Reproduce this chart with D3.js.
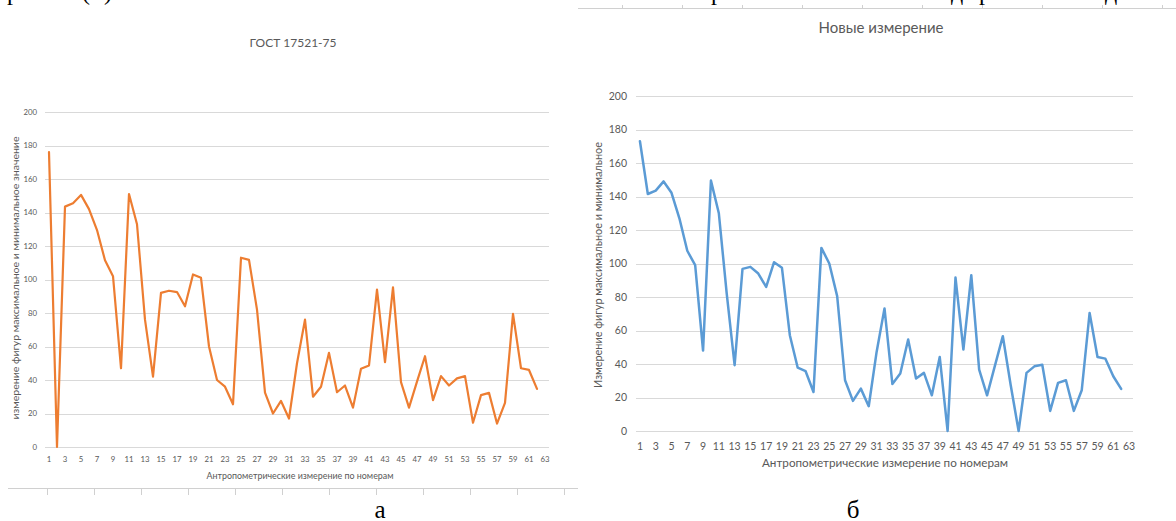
<!DOCTYPE html>
<html>
<head>
<meta charset="utf-8">
<script src="https://cdn.jsdelivr.net/npm/d3@7"></script>
<style>
  html, body { margin: 0; padding: 0; background: #ffffff; }
  svg { display: block; }
</style>
</head>
<body>
<svg id="fig" width="1176" height="521"></svg>
<script>
// Measurement numbers (category axis)
const categories = [
  1, 2, 3, 4, 5, 6, 7, 8, 9, 10, 11, 12, 13, 14, 15, 16, 17, 18, 19, 20, 21,
  22, 23, 24, 25, 26, 27, 28, 29, 30, 31, 32, 33, 34, 35, 36, 37, 38, 39, 40, 41, 42,
  43, 44, 45, 46, 47, 48, 49, 50, 51, 52, 53, 54, 55, 56, 57, 58, 59, 60, 61, 62, 63
];

// ГОСТ 17521-75 values, measurements 1..62
const gostValues = [
  176, 0, 143.5, 145.5, 150.5, 142, 129.5, 111.5, 102, 47,
  151, 133, 76, 42, 92, 93.3, 92.5, 84, 103, 101,
  60, 40, 36, 25.5, 113, 111.7, 82, 32.5, 20, 27.5,
  17, 50, 76, 30, 36, 56.2, 32.7, 36.7, 23.5, 46.7,
  48.7, 94, 50.6, 95.3, 38.7, 23.5, 39, 54.2, 28, 42.3,
  36.7, 41, 42.3, 14.5, 31, 32.3, 14, 26.3, 79.5, 47,
  46, 34.7
];

// New measurement values, measurements 1..62
const newValues = [
  173, 141.5, 143.5, 149, 142.2, 127, 107.6, 99, 48, 149.5,
  130, 82, 39.3, 96.8, 98, 94, 86, 100.8, 97.4, 57.2,
  37.8, 35.7, 23.3, 109.3, 100, 80.5, 30.3, 18, 25.3, 14.8,
  47.2, 73.2, 28, 34.3, 54.6, 31.3, 34.7, 21.3, 44.2, 0,
  91.6, 48.6, 93, 36.7, 21.3, 39, 56.6, 27.3, 0, 34.7,
  38.6, 39.6, 12, 28.7, 30.3, 12, 24.3, 70.5, 44.2, 43.2,
  32.7, 25.1
];

const yTickValues = [0, 20, 40, 60, 80, 100, 120, 140, 160, 180, 200];
const xTickLabels = categories.filter(c => c % 2 === 1);

const panelTitles = ["ГОСТ 17521-75", "Новые измерение"];
const xAxisTitle = "Антропометрические измерение по номерам";
const yAxisTitles = [
  "измерение фигур максимальное и минимальное значение",
  "Измерение фигур максимальное и минимальное"
];
const captions = ["а", "б"];

const svg = d3.select("#fig");
const uiFont = "Lato, 'Open Sans', 'Noto Sans', sans-serif";
const serifFont = "'Liberation Serif', 'DejaVu Serif', serif";
const labelColor = "#595959";
const gridColor = "#d9d9d9";

// Fragments of the surrounding document: text line above, table rules
const topFrag = svg.append("g").attr("font-family", serifFont).attr("font-size", 24).attr("fill", "#000");
[["р", 13], ["(", 86], [")", 108], ["р", 717], ["д", 957], ["р", 985], ["д", 1111]].forEach(([t, x]) => {
  topFrag.append("text").attr("x", x).attr("y", 0).attr("text-anchor", "middle").text(t);
});

const topRule = svg.append("g").attr("stroke", "#d0d0d0").attr("stroke-width", 1);
topRule.append("line").attr("x1", 578).attr("x2", 1176).attr("y1", 8.5).attr("y2", 8.5);
d3.range(622, 1170, 60).forEach(x => {
  topRule.append("line").attr("x1", x + 0.5).attr("x2", x + 0.5).attr("y1", 5).attr("y2", 8.5);
});

const bottomRule = svg.append("g").attr("stroke", "#d0d0d0").attr("stroke-width", 1);
bottomRule.append("line").attr("x1", 8).attr("x2", 578).attr("y1", 488.5).attr("y2", 488.5);
d3.range(47, 570, 47).forEach(x => {
  bottomRule.append("line").attr("x1", x + 0.5).attr("x2", x + 0.5).attr("y1", 488.5).attr("y2", 495);
});

function drawPanel(o) {
  const g = svg.append("g");

  const x = d3.scaleBand().domain(categories).range([o.left, o.right]);
  const y = d3.scaleLinear().domain([0, 200]).range([o.bottom, o.top]);
  const cx = c => x(c) + x.bandwidth() / 2;

  // horizontal gridlines
  g.append("g").selectAll("line").data(yTickValues).join("line")
    .attr("x1", o.left).attr("x2", o.right)
    .attr("y1", d => Math.round(y(d)) + 0.5).attr("y2", d => Math.round(y(d)) + 0.5)
    .attr("stroke", gridColor).attr("stroke-width", 1);

  // y tick labels
  g.append("g").selectAll("text").data(yTickValues).join("text")
    .attr("x", o.yLabelX).attr("y", d => y(d)).attr("dy", "0.35em")
    .attr("text-anchor", "end")
    .attr("font-family", uiFont).attr("font-size", o.tickSize).attr("fill", labelColor)
    .text(d => d);

  // x tick labels (every other measurement)
  g.append("g").selectAll("text").data(xTickLabels).join("text")
    .attr("x", d => cx(d)).attr("y", o.xLabelY).attr("dy", "0.35em")
    .attr("text-anchor", "middle")
    .attr("font-family", uiFont).attr("font-size", o.tickSize).attr("fill", labelColor)
    .text(d => d);

  // series line
  const line = d3.line().x((d, i) => cx(categories[i])).y(d => y(d));
  g.append("path").datum(o.values)
    .attr("d", line)
    .attr("fill", "none")
    .attr("stroke", o.color).attr("stroke-width", o.lineWidth)
    .attr("stroke-linejoin", "round").attr("stroke-linecap", "round");

  // chart title
  g.append("text")
    .attr("x", o.titleX).attr("y", o.titleY).attr("dy", "0.35em")
    .attr("text-anchor", "middle")
    .attr("font-family", uiFont).attr("font-size", o.titleSize).attr("fill", labelColor)
    .text(o.title);

  // axis titles
  g.append("text")
    .attr("x", o.xTitleX).attr("y", o.xTitleY).attr("dy", "0.35em")
    .attr("text-anchor", "middle")
    .attr("font-family", uiFont).attr("font-size", o.xTitleSize).attr("fill", labelColor)
    .attr("textLength", o.xTitleLen).attr("lengthAdjust", "spacingAndGlyphs")
    .text(xAxisTitle);

  g.append("text")
    .attr("transform", `translate(${o.yTitleX},${o.yTitleY}) rotate(-90)`)
    .attr("dy", "0.35em")
    .attr("text-anchor", "middle")
    .attr("font-family", uiFont).attr("font-size", o.yTitleSize).attr("fill", labelColor)
    .attr("textLength", o.yTitleLen).attr("lengthAdjust", "spacingAndGlyphs")
    .text(o.yTitle);

  // figure caption below the chart
  svg.append("text")
    .attr("x", o.captionX).attr("y", 518)
    .attr("text-anchor", "middle")
    .attr("font-family", serifFont).attr("font-size", 25).attr("fill", "#000")
    .text(o.caption);
}

drawPanel({
  values: gostValues, color: "#ED7D31", lineWidth: 2.2,
  left: 45, right: 549, top: 112, bottom: 447,
  yLabelX: 37, xLabelY: 459, tickSize: 7.8,
  title: panelTitles[0], titleX: 293, titleY: 43, titleSize: 12,
  xTitleX: 300, xTitleY: 476, xTitleSize: 9, xTitleLen: 187,
  yTitle: yAxisTitles[0], yTitleX: 16, yTitleY: 278, yTitleSize: 9.5, yTitleLen: 283,
  caption: captions[0], captionX: 380
});

drawPanel({
  values: newValues, color: "#5B9BD5", lineWidth: 2.5,
  left: 636, right: 1133, top: 96, bottom: 431,
  yLabelX: 627, xLabelY: 446, tickSize: 10.5,
  title: panelTitles[1], titleX: 881, titleY: 28, titleSize: 15,
  xTitleX: 885, xTitleY: 463, xTitleSize: 11.5, xTitleLen: 246,
  yTitle: yAxisTitles[1], yTitleX: 598, yTitleY: 265, yTitleSize: 11, yTitleLen: 246,
  caption: captions[1], captionX: 853
});
</script>
</body>
</html>
